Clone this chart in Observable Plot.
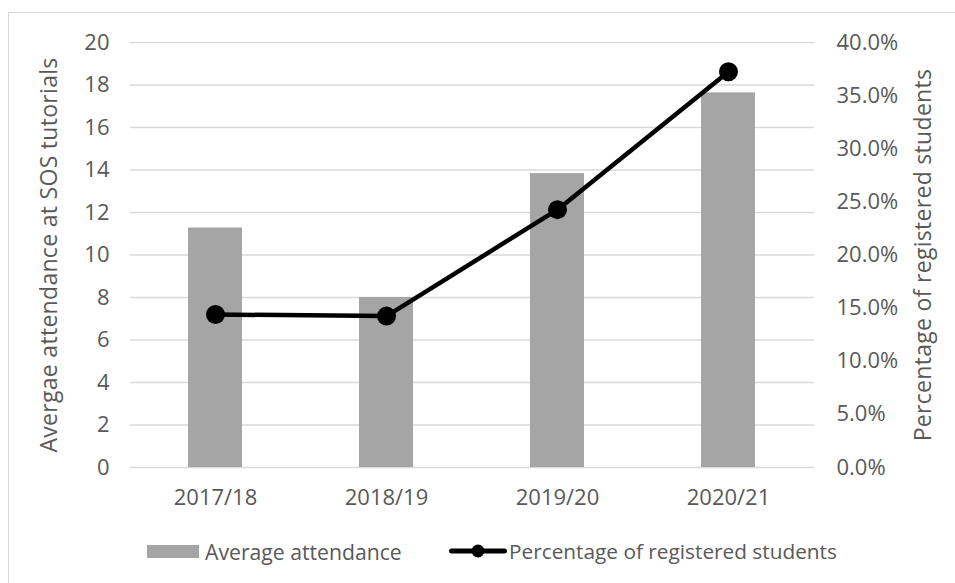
<!DOCTYPE html>
<html>
<head>
<meta charset="utf-8">
<script src="https://cdn.jsdelivr.net/npm/d3@7"></script>
<script src="https://cdn.jsdelivr.net/npm/@observablehq/plot@0.6"></script>
<style>
  html, body { margin: 0; padding: 0; background: #fff; }
  #wrap { position: relative; width: 955px; height: 583px; overflow: hidden; font-family: "Open Sans", sans-serif; }
  #frame { position: absolute; left: 8px; top: 12px; width: 1000px; height: 640px; border: 1.5px solid #d9d9d9; box-sizing: border-box; }
  #chart { position: absolute; left: 0; top: 0; }
  #chart svg g[aria-label="y-axis label"] text { letter-spacing: 0.3px; }
  #legend { position: absolute; left: 0; top: 537px; width: 955px; height: 30px; font-size: 21.2px; color: #595959; }
  #legend .item { position: absolute; top: 0; display: flex; align-items: center; height: 28px; white-space: nowrap; }
  #legend .swatch { width: 52px; height: 13px; background: #a5a5a5; margin-right: 6px; }
</style>
</head>
<body>
<div id="wrap">
  <div id="frame"></div>
  <div id="chart"></div>
  <div id="legend"></div>
</div>
<script>
// Academic years on the category axis
const years = ["2017/18", "2018/19", "2019/20", "2020/21"];
// Average attendance at SOS tutorials (left axis)
const attendance = [11.27, 8.0, 13.83, 17.63];
// Percentage of registered students attending (right axis)
const registeredPct = [14.4, 14.25, 24.27, 37.25];
// Tick values
const leftTicks = [0, 2, 4, 6, 8, 10, 12, 14, 16, 18, 20];
const rightTicks = [0, 5, 10, 15, 20, 25, 30, 35, 40];

const leftMax = 20;
const rightMax = 40;
const toLeft = p => p * leftMax / rightMax;   // percent -> left-axis units

const rows = years.map((year, i) => ({
  year,
  attendance: attendance[i],
  pct: registeredPct[i],
  pctScaled: toLeft(registeredPct[i])
}));

const textColor = "#595959";

const chart = Plot.plot({
  width: 955,
  height: 530,
  marginLeft: 130,
  marginRight: 141,
  marginTop: 42,
  marginBottom: 63,
  style: { fontFamily: "Open Sans, sans-serif", fontSize: "22px", color: textColor, background: "transparent" },
  x: { type: "band", domain: years, paddingInner: 0.684, paddingOuter: 0.342 },
  y: { domain: [0, leftMax] },
  marks: [
    Plot.ruleY(leftTicks, { stroke: "#d9d9d9", strokeWidth: 1.5 }),
    Plot.barY(rows, { x: "year", y: "attendance", fill: "#a5a5a5" }),
    Plot.line(rows, { x: "year", y: "pctScaled", stroke: "#000", strokeWidth: 4.5, strokeLinejoin: "round" }),
    Plot.dot(rows, { x: "year", y: "pctScaled", r: 9.5, fill: "#000", stroke: "none" }),
    Plot.axisX({ tickSize: 0, tickPadding: 22, label: null, fontSize: 22 }),
    Plot.axisY(leftTicks, {
      anchor: "left", tickSize: 0, tickPadding: 21, fontSize: 22,
      label: "Avergae attendance at SOS tutorials", labelAnchor: "center", labelArrow: "none", labelOffset: 90
    }),
    Plot.axisY(rightTicks.map(toLeft), {
      anchor: "right", tickSize: 0, tickPadding: 22, fontSize: 22,
      tickFormat: d => (d * rightMax / leftMax).toFixed(1) + "%",
      label: "Percentage of registered students", labelAnchor: "center", labelArrow: "none", labelOffset: 116
    })
  ]
});
// Axis titles are a touch larger than the tick labels
chart.querySelectorAll('g[aria-label="y-axis label"]').forEach(g => g.setAttribute("font-size", "23"));
document.getElementById("chart").appendChild(chart);

// Legend below the plot
const legend = document.getElementById("legend");
const barItem = document.createElement("div");
barItem.className = "item";
barItem.style.left = "147px";
barItem.innerHTML = '<span class="swatch"></span><span>Average attendance</span>';
legend.appendChild(barItem);

const lineItem = document.createElement("div");
lineItem.className = "item";
lineItem.style.left = "449px";
lineItem.innerHTML = '<svg width="58" height="16" style="margin-right:2px"><line x1="2.5" y1="8" x2="55.5" y2="8" stroke="#000" stroke-width="5" stroke-linecap="round"/><circle cx="29" cy="8" r="6.5" fill="#000"/></svg><span style="font-size:20.8px">Percentage of registered students</span>';
legend.appendChild(lineItem);
</script>
</body>
</html>
